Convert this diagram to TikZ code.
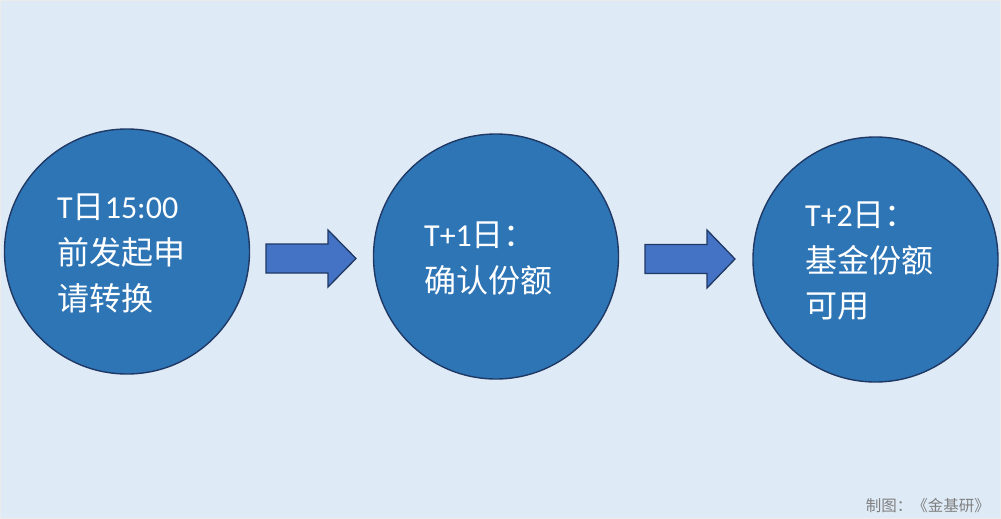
\documentclass[tikz,border=0pt]{standalone}
\usepackage{fontspec}
\newfontfamily\cjk{Noto Sans CJK SC}
\newfontfamily\lat{Carlito}
\definecolor{bgc}{HTML}{DEEBF7}
\definecolor{circfill}{HTML}{2E75B6}
\definecolor{circline}{HTML}{1F3864}
\definecolor{arrfill}{HTML}{4472C4}
\definecolor{arrline}{HTML}{1F3864}
\definecolor{credit}{HTML}{7F7F7F}
\begin{document}
\begin{tikzpicture}[x=1pt,y=-1pt,
  stage/.style={circle,draw=circline,line width=1.4pt,fill=circfill,inner sep=0pt},
  txt/.style={anchor=base west,inner sep=0pt,text=white,font=\fontsize{32}{38}\selectfont},
  blockarrow/.style={draw=arrline,line width=1.3pt,fill=arrfill,line join=miter}]
\fill[bgc] (0,0) rectangle (1001,519);
\draw[white!85!gray,line width=1pt] (0.5,0.5) rectangle (1000.5,518.5);
\useasboundingbox (0,0) rectangle (1001,519);

\node[stage,minimum size=245pt] (c1) at (127,251.5) {};
\node[stage,minimum size=245pt] (c2) at (496,256.5) {};
\node[stage,minimum size=245pt] (c3) at (875.5,259.5) {};

% arrows
\draw[blockarrow] (266,244) -- (328,244) -- (328,230) -- (356,258.5) -- (328,287) -- (328,273) -- (266,273) -- cycle;
\draw[blockarrow] (645,244.5) -- (707,244.5) -- (707,230) -- (735,259) -- (707,288) -- (707,273.5) -- (645,273.5) -- cycle;

% circle 1 text
\node[txt] (t1a) at (57,218) {\lat T\cjk 日\lat 15:00};
\node[txt] (t1b) at (57,264) {\cjk 前发起申};
\node[txt] (t1c) at (57,310) {\cjk 请转换};
% circle 2 text
\node[txt] (t2a) at (424,246) {\lat T+1\cjk 日：};
\node[txt] (t2b) at (424,292) {\cjk 确认份额};
% circle 3 text
\node[txt] (t3a) at (805,226) {\lat T+2\cjk 日：};
\node[txt] (t3b) at (805,272) {\cjk 基金份额};
\node[txt] (t3c) at (805,317) {\cjk 可用};

\node[anchor=base east,inner sep=0pt,text=credit,font=\cjk\fontsize{15.5}{17}\selectfont] (credit) at (990,511) {制图：《金基研》};
\end{tikzpicture}
\end{document}
